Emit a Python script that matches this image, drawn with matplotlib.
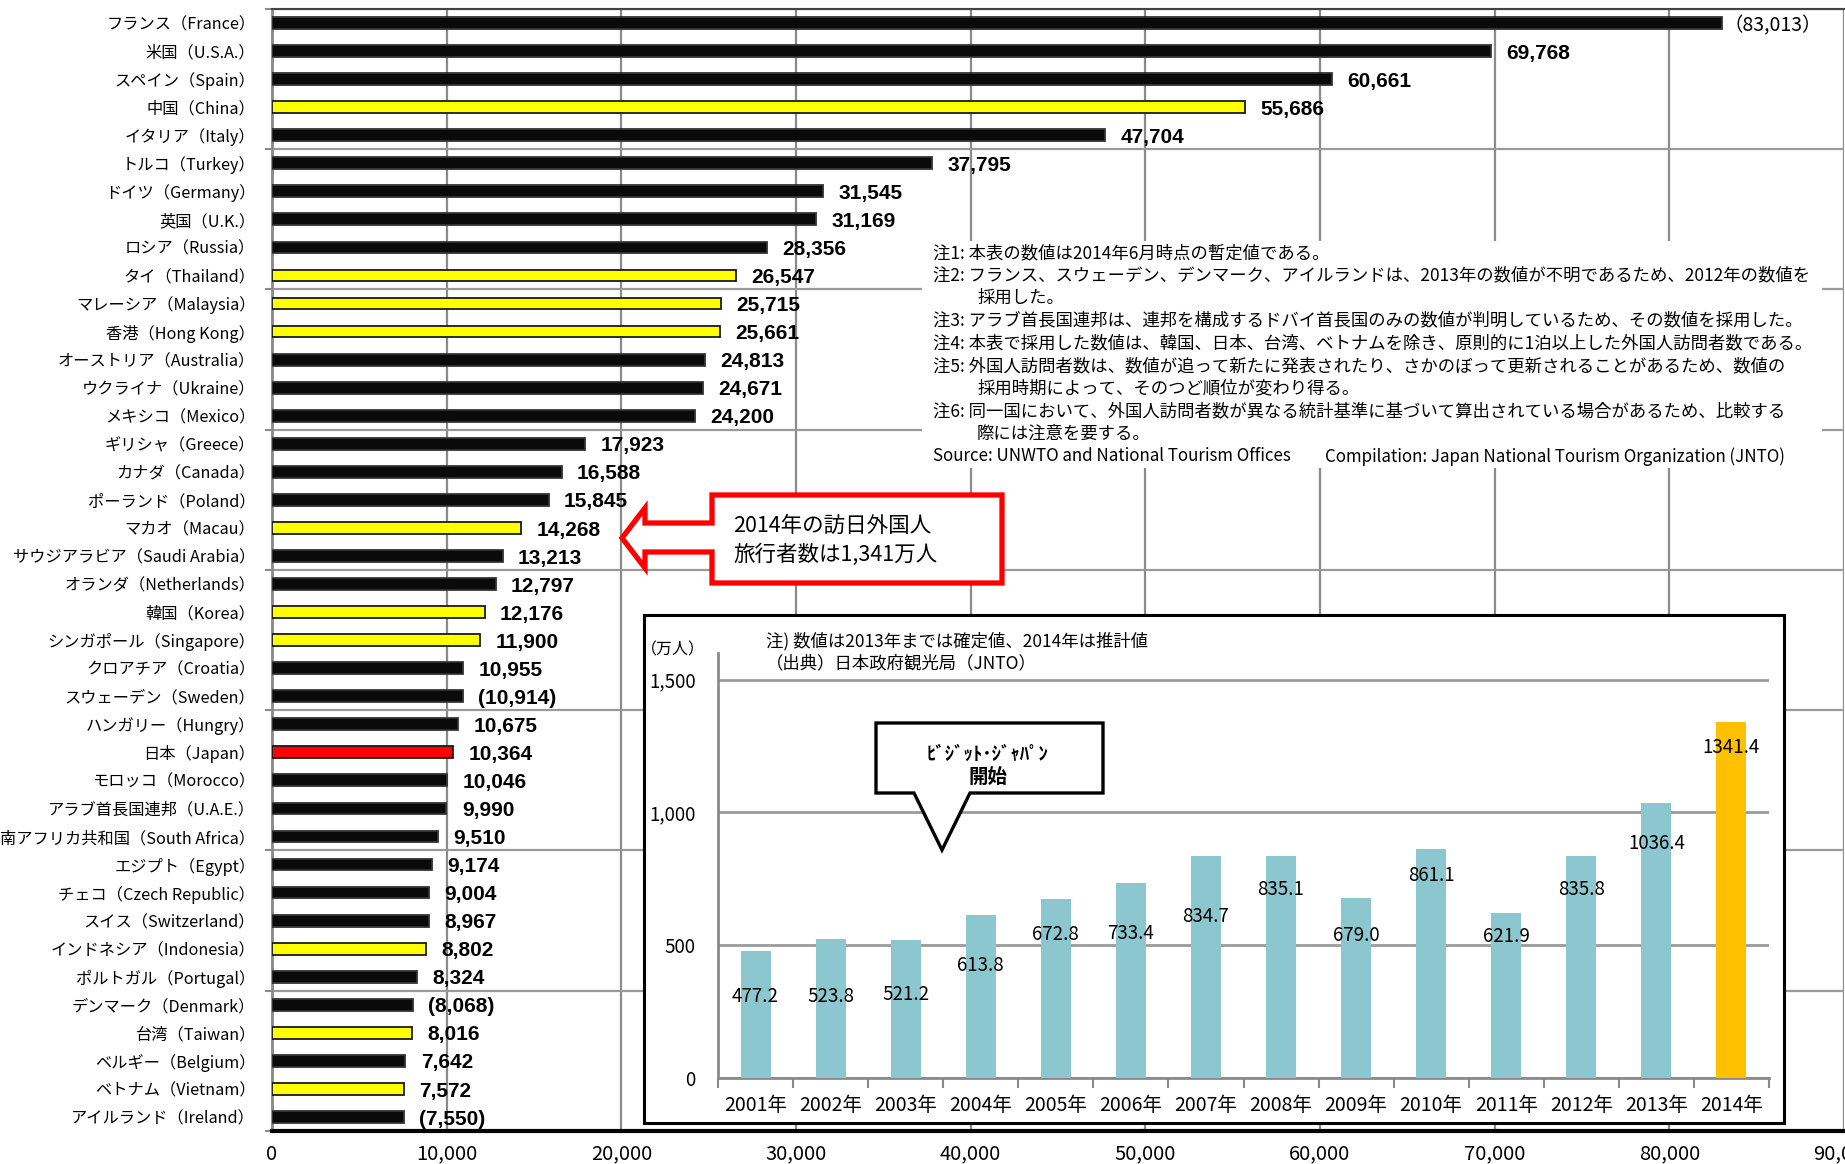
import numpy as np
import matplotlib
matplotlib.use("Agg")
import matplotlib.pyplot as plt
from matplotlib.patches import Polygon
from matplotlib.ticker import FuncFormatter

plt.rcParams['font.family'] = ['Noto Sans CJK JP', 'DejaVu Sans']

# data: international tourist arrivals 2013 (thousand)
countries = [
    "フランス（France）", "米国（U.S.A.）", "スペイン（Spain）", "中国（China）",
    "イタリア（Italy）", "トルコ（Turkey）", "ドイツ（Germany）", "英国（U.K.）",
    "ロシア（Russia）", "タイ（Thailand）", "マレーシア（Malaysia）", "香港（Hong Kong）",
    "オーストリア（Australia）", "ウクライナ（Ukraine）", "メキシコ（Mexico）",
    "ギリシャ（Greece）", "カナダ（Canada）", "ポーランド（Poland）", "マカオ（Macau）",
    "サウジアラビア（Saudi Arabia）", "オランダ（Netherlands）", "韓国（Korea）",
    "シンガポール（Singapore）", "クロアチア（Croatia）", "スウェーデン（Sweden）",
    "ハンガリー（Hungry）", "日本（Japan）", "モロッコ（Morocco）",
    "アラブ首長国連邦（U.A.E.）", "南アフリカ共和国（South Africa）", "エジプト（Egypt）",
    "チェコ（Czech Republic）", "スイス（Switzerland）", "インドネシア（Indonesia）",
    "ポルトガル（Portugal）", "デンマーク（Denmark）", "台湾（Taiwan）",
    "ベルギー（Belgium）", "ベトナム（Vietnam）", "アイルランド（Ireland）",
]
visitors = [83013, 69768, 60661, 55686, 47704, 37795, 31545, 31169, 28356, 26547,
            25715, 25661, 24813, 24671, 24200, 17923, 16588, 15845, 14268, 13213,
            12797, 12176, 11900, 10955, 10914, 10675, 10364, 10046, 9990, 9510,
            9174, 9004, 8967, 8802, 8324, 8068, 8016, 7642, 7572, 7550]
groups = ["other", "other", "other", "asia", "other", "other", "other", "other",
          "other", "asia", "asia", "asia", "other", "other", "other", "other",
          "other", "other", "asia", "other", "other", "asia", "asia", "other",
          "other", "other", "japan", "other", "other", "other", "other", "other",
          "other", "asia", "other", "other", "asia", "other", "asia", "other"]
# values taken from 2012 (shown in parentheses)
from_2012 = ["France", "Sweden", "Denmark", "Ireland"]

# inset: visitors to Japan (10 thousand)
years = [2001, 2002, 2003, 2004, 2005, 2006, 2007, 2008, 2009, 2010, 2011, 2012, 2013, 2014]
arrivals = [477.2, 523.8, 521.2, 613.8, 672.8, 733.4, 834.7, 835.1, 679.0, 861.1,
            621.9, 835.8, 1036.4, 1341.4]
arrival_label_y = [306, 307, 316, 425, 541, 543, 608, 709, 538, 762, 534, 709, 882, 1243]

notes = [
    ("注1: 本表の数値は2014年6月時点の暫定値である。", 0),
    ("注2: フランス、スウェーデン、デンマーク、アイルランドは、2013年の数値が不明であるため、2012年の数値を", 0),
    ("採用した。", 1),
    ("注3: アラブ首長国連邦は、連邦を構成するドバイ首長国のみの数値が判明しているため、その数値を採用した。", 0),
    ("注4: 本表で採用した数値は、韓国、日本、台湾、ベトナムを除き、原則的に1泊以上した外国人訪問者数である。", 0),
    ("注5: 外国人訪問者数は、数値が追って新たに発表されたり、さかのぼって更新されることがあるため、数値の", 0),
    ("採用時期によって、そのつど順位が変わり得る。", 1),
    ("注6: 同一国において、外国人訪問者数が異なる統計基準に基づいて算出されている場合があるため、比較する", 0),
    ("際には注意を要する。", 1),
]
source_text = "Source: UNWTO and National Tourism Offices"
compile_text = "Compilation: Japan National Tourism Organization (JNTO)"

W, H = 1845, 1164
fig = plt.figure(figsize=(W / 100, H / 100), dpi=100)


def px_rect(x0, y0, x1, y1):
    # pixel box measured from the top-left corner -> figure fraction
    return [x0 / W, 1 - y1 / H, (x1 - x0) / W, (y1 - y0) / H]


fill = {"other": "#0a0a0a", "asia": "#FFFF00", "japan": "#FF0000"}
edge = {"other": "#333333", "asia": "#1a1a1a", "japan": "#1a1a1a"}

# main chart
ax = fig.add_axes(px_rect(272, 9, 1844, 1131))
ypos = np.arange(len(countries))
ax.barh(ypos, visitors, height=0.42, color=[fill[g] for g in groups],
        edgecolor=[edge[g] for g in groups], linewidth=1.3, zorder=3)
ax.set_xlim(0, 90000)
ax.set_ylim(len(countries) - 0.5, -0.5)
ax.set_axisbelow(True)

ax.set_xticks(np.arange(0, 90001, 10000))
ax.xaxis.set_major_formatter(FuncFormatter(lambda v, p: f"{v:,.0f}"))
ax.grid(axis="x", color="#8a8a8a", linewidth=1.6)
ax.tick_params(axis="x", length=0, labelsize=14.5, pad=9)

ax.set_yticks(ypos)
ax.set_yticklabels(countries, fontsize=11.7)
ax.set_yticks(np.arange(-0.5, len(countries), 5), minor=True)
ax.grid(axis="y", which="minor", color="#9a9a9a", linewidth=1.6)
ax.tick_params(axis="y", which="major", length=0, pad=12)
ax.tick_params(axis="y", which="minor", length=5, width=1.5, color="#8a8a8a")

ax.spines["right"].set_visible(False)
ax.spines["top"].set_color("#444444")
ax.spines["top"].set_linewidth(1.5)
ax.spines["left"].set_color("#8a8a8a")
ax.spines["left"].set_linewidth(2)
ax.spines["bottom"].set_color("black")
ax.spines["bottom"].set_linewidth(3)

for i, (name, v) in enumerate(zip(countries, visitors)):
    eng = name.split("（")[1].rstrip("）")
    if i == 0:
        ax.annotate(f"（{v:,}）", (v, i), xytext=(1, -2), textcoords="offset points",
                    va="center", ha="left", fontsize=14, zorder=4)
        continue
    txt = f"({v:,})" if eng in from_2012 else f"{v:,}"
    ax.annotate(txt, (v, i), xytext=(11, -1.5), textcoords="offset points",
                va="center", ha="left", fontsize=15, fontweight="bold",
                family="Liberation Sans", zorder=4)

# notes block with white background
nax = fig.add_axes(px_rect(922, 241, 1822, 468))
nax.set_xlim(0, 900)
nax.set_ylim(227, 0)
nax.set_xticks([])
nax.set_yticks([])
for s in nax.spines.values():
    s.set_visible(False)
for k, (line, indent) in enumerate(notes):
    nax.text(11 + 44 * indent, 12 + 22.6 * k, line, fontsize=12.5, va="center", ha="left")
nax.text(11, 12 + 22.6 * 9, source_text, fontsize=12.2, va="center", ha="left")
nax.text(403, 12 + 22.6 * 9, compile_text, fontsize=12.2, va="center", ha="left")

# inset frame
box = fig.add_axes(px_rect(644, 615, 1784, 1123))
box.set_xticks([])
box.set_yticks([])
for s in box.spines.values():
    s.set_color("black")
    s.set_linewidth(2.2)

ins = fig.add_axes(px_rect(718, 653, 1769, 1078))
ins.patch.set_alpha(0)
xi = np.arange(len(years))
ins.bar(xi, arrivals, width=0.4,
        color=["#8CC6CF"] * (len(years) - 1) + ["#FFC000"], zorder=3)
ins.set_xlim(-0.5, len(years) - 0.5)
ins.set_ylim(0, 1600)
ins.set_yticks([0, 500, 1000, 1500])
ins.yaxis.set_major_formatter(FuncFormatter(lambda v, p: f"{v:,.0f}"))
ins.grid(axis="y", color="#9a9a9a", linewidth=2)
ins.set_axisbelow(True)
ins.tick_params(axis="y", length=0, pad=16, labelsize=13.5)
ins.set_xticks(xi)
ins.set_xticklabels([f"{y}年" for y in years])
ins.set_xticks(np.arange(-0.5, len(years), 1), minor=True)
ins.tick_params(axis="x", which="major", length=0, pad=12, labelsize=14)
ins.tick_params(axis="x", which="minor", length=7, width=1.5, color="#8a8a8a")
ins.spines["top"].set_visible(False)
ins.spines["right"].set_visible(False)
ins.spines["left"].set_color("#8a8a8a")
ins.spines["left"].set_linewidth(2)
ins.spines["bottom"].set_color("#8a8a8a")
ins.spines["bottom"].set_linewidth(2)
for i, (v, ly) in enumerate(zip(arrivals, arrival_label_y)):
    ins.text(i, ly, f"{v:.1f}", ha="center", va="center", fontsize=13.5, zorder=4)

# overlay for callouts and inset captions
ov = fig.add_axes([0, 0, 1, 1])
ov.set_xlim(0, W)
ov.set_ylim(H, 0)
ov.axis("off")

arrow = [(622, 538), (645, 508), (645, 523), (712, 523), (712, 495), (1002, 495),
         (1002, 583), (712, 583), (712, 552), (645, 552), (645, 568)]
ov.add_patch(Polygon(arrow, closed=True, facecolor="white", edgecolor="#FF0000",
                     linewidth=3.8, joinstyle="miter"))
ov.text(733, 526, "2014年の訪日外国人", fontsize=15.5, va="center", ha="left")
ov.text(733, 555, "旅行者数は1,341万人", fontsize=15.5, va="center", ha="left")

bubble = [(876, 723), (1103, 723), (1103, 793), (970, 793), (942, 850), (914, 793),
          (876, 793)]
ov.add_patch(Polygon(bubble, closed=True, facecolor="white", edgecolor="black",
                     linewidth=2.4, joinstyle="miter"))
ov.text(988, 754, "ﾋﾞｼﾞｯﾄ･ｼﾞｬﾊﾟﾝ", fontsize=13.5, fontweight="bold", va="center", ha="center")
ov.text(988, 777, "開始", fontsize=14, fontweight="bold", va="center", ha="center")

ov.text(673, 650, "（万人）", fontsize=11.5, va="center", ha="center")
ov.text(766, 641, "注) 数値は2013年までは確定値、2014年は推計値", fontsize=12.5,
        va="center", ha="left")
ov.text(766, 663, "（出典）日本政府観光局（JNTO）", fontsize=12.5, va="center", ha="left")

fig.savefig("out.png", dpi=100)
